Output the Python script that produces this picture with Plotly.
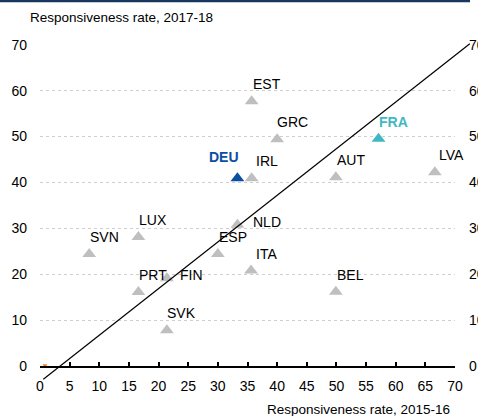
import plotly.graph_objects as go

# Data
countries = ['EST', 'GRC', 'FRA', 'DEU', 'IRL', 'AUT', 'LVA', 'LUX',
             'SVN', 'NLD', 'ESP', 'ITA', 'PRT', 'FIN', 'SVK', 'BEL']
rate_2015_16 = [35.7, 40.0, 57.1, 33.3, 35.7, 49.9, 66.6, 16.6,
                8.3, 33.3, 30.0, 35.6, 16.6, 21.4, 21.4, 49.9]
rate_2017_18 = [57.7, 49.4, 49.5, 40.9, 40.9, 41.1, 42.2, 28.1,
                24.4, 30.8, 24.4, 20.8, 16.1, 19.1, 7.8, 16.2]
diag_x = [0.56, 72.5]
diag_y = [-2.9, 70.2]
origin_x = [0.84]
origin_y = [0]
x_ticks = list(range(0, 75, 5))
y_ticks = list(range(0, 80, 10))

FONT = 'Liberation Sans, Arial, sans-serif'
FS = 14
GREY = '#bfbfbf'
BLUE = '#0b4ea2'
TEAL = '#40b8c2'

# pixel geometry of the plot area
W, H = 478, 416
px_x0, px_x70 = 40, 455
px_y0, px_y70 = 366, 44.7
L, R, T, B = 40, 3, 40, 34
pw, ph = W - L - R, H - T - B
sx = (px_x70 - px_x0) / 70.0
sy = (px_y0 - px_y70) / 70.0
xdom = [0, (px_x70 - L) / pw]
ydom = [(H - B - px_y0) / ph, (H - B - px_y70) / ph]

colors = {c: GREY for c in countries}
colors['DEU'] = BLUE
colors['FRA'] = TEAL

fig = go.Figure()

fig.add_trace(go.Scatter(
    x=rate_2015_16, y=rate_2017_18, mode='markers',
    marker=dict(symbol='triangle-up', size=12, color=[colors[c] for c in countries]),
    cliponaxis=False, showlegend=False, hoverinfo='skip'))

fig.add_trace(go.Scatter(
    x=origin_x, y=origin_y, mode='markers',
    marker=dict(symbol='x', size=4, color='#f5821f'),
    cliponaxis=False, showlegend=False))

# 45-degree line on a wider transparent subplot so it is not clipped
fig.add_trace(go.Scatter(
    x=diag_x, y=diag_y, mode='lines', xaxis='x2', yaxis='y2',
    line=dict(color='black', width=1.2), showlegend=False, hoverinfo='skip'))

# label offsets (px) from each marker
offsets = {c: (15, 17) for c in countries}
offsets.update({'DEU': (-13, 21), 'NLD': (30, 2.5), 'FIN': (25, 3), 'LVA': (17, 17)})

for c, xv, yv in zip(countries, rate_2015_16, rate_2017_18):
    dx, dy = offsets[c]
    col = 'black'
    txt = c
    if c == 'DEU':
        col, txt = BLUE, '<b>DEU</b>'
    elif c == 'FRA':
        col, txt = TEAL, '<b>FRA</b>'
    fig.add_annotation(x=xv, y=yv, text=txt, showarrow=False, xshift=dx, yshift=dy,
                       font=dict(family=FONT, size=FS, color=col))

fig.add_annotation(xref='paper', yref='paper', x=(28 - L) / pw, y=(H - B - 18) / ph,
                   xanchor='left', yanchor='middle', showarrow=False,
                   text='Responsiveness rate, 2017-18',
                   font=dict(family=FONT, size=13.5, color='black'))
fig.add_annotation(xref='paper', yref='paper', x=(452 - L) / pw, y=(H - B - 409) / ph,
                   xanchor='right', yanchor='middle', showarrow=False,
                   text='Responsiveness rate, 2015-16',
                   font=dict(family=FONT, size=13.5, color='black'))

# navy rule at the top
fig.add_shape(type='line', xref='paper', yref='paper',
              x0=(0 - L) / pw, x1=(470 - L) / pw, y0=(H - B - 1) / ph, y1=(H - B - 1) / ph,
              line=dict(color='#17375e', width=2.5))

fig.update_layout(
    width=W, height=H, margin=dict(l=L, r=R, t=T, b=B, autoexpand=False),
    paper_bgcolor='white', plot_bgcolor='rgba(0,0,0,0)',
    font=dict(family=FONT, size=FS, color='black'),
    xaxis=dict(domain=xdom, range=[0, 70], tickvals=x_ticks, showgrid=False, zeroline=False,
               showline=True, linecolor='black', linewidth=2, ticks='inside', ticklen=4,
               tickwidth=1.5, tickcolor='black', ticklabelstandoff=6, anchor='y',
               automargin=False),
    yaxis=dict(domain=ydom, range=[0, 70], tickvals=y_ticks, showgrid=True,
               gridcolor='#cfcfcf', griddash='dot', gridwidth=1, zeroline=False,
               showline=False, ticks='', ticklabelstandoff=12, anchor='x',
               automargin=False),
    yaxis3=dict(overlaying='y', side='right', range=[0, 70], tickvals=y_ticks,
                showgrid=False, zeroline=False, showline=False, ticks='',
                ticklabelstandoff=13, anchor='x', automargin=False),
    xaxis2=dict(domain=[0, 1], range=[0, pw / sx], visible=False, anchor='y2'),
    yaxis2=dict(domain=[0, 1], range=[-(H - B - px_y0) / sy, 70 + (px_y70 - T) / sy],
                visible=False, anchor='x2'),
)

# dummy trace so the right axis is drawn
fig.add_trace(go.Scatter(x=[None], y=[None], yaxis='y3', showlegend=False))

fig.write_html('out.html', config={'displayModeBar': False},
               post_script="document.body.style.margin='0';")
